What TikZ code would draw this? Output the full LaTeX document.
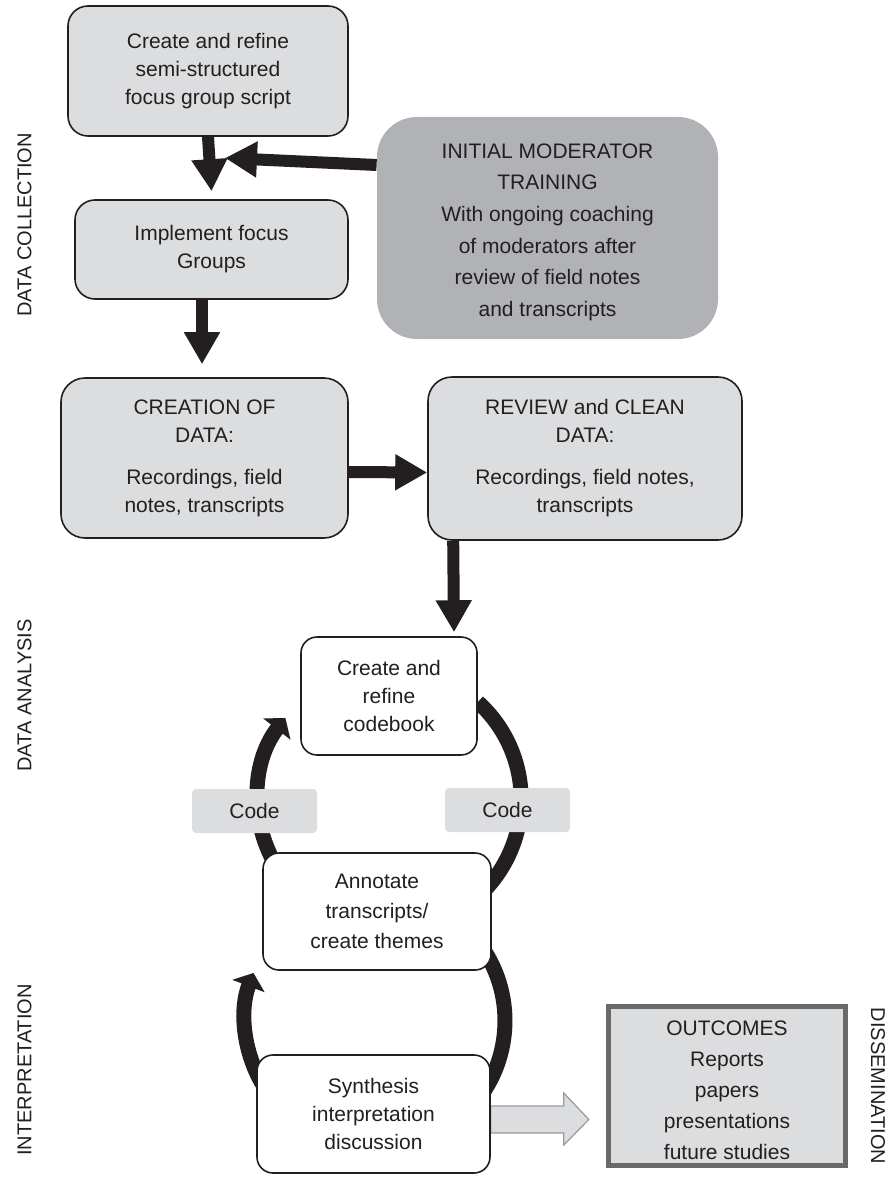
\documentclass[tikz,border=0pt]{standalone}
\usepackage{fontspec}
\setmainfont{Liberation Sans}
\usetikzlibrary{positioning}
\usetikzlibrary{calc}
\usetikzlibrary{arrows.meta}
\pgfdeclarelayer{nodelayer}
\pgfdeclarelayer{edgelayer}
\pgfsetlayers{edgelayer,nodelayer,main}
\definecolor{ink}{HTML}{231F20}
\definecolor{boxgrey}{HTML}{DCDDDF}
\definecolor{modgrey}{HTML}{B1B2B5}
\definecolor{rimgrey}{HTML}{696969}
\definecolor{tipgrey}{HTML}{9A9A9C}
\tikzset{boxfont/.style={font=\fontsize{10.5}{14}\selectfont}}
\tikzset{greybox/.style={draw=ink, line width=0.8pt, fill=boxgrey, rounded corners=10pt, align=center, inner sep=0pt, text=ink, boxfont}}
\tikzset{whitebox/.style={draw=ink, line width=0.8pt, fill=white, rounded corners=8pt, align=center, inner sep=0pt, text=ink, boxfont}}
\tikzset{trainbox/.style={fill=modgrey, rounded corners=20pt, align=center, inner sep=0pt, text=ink, font=\fontsize{10.5}{15.8}\selectfont}}
\tikzset{codetag/.style={fill=boxgrey, rounded corners=2pt, inner sep=0pt, text=ink, boxfont, minimum width=62.5pt, minimum height=22pt}}
\tikzset{outbox/.style={draw=rimgrey, line width=2.5pt, fill=boxgrey, align=center, inner sep=0pt, text=ink, font=\fontsize{10.5}{15.5}\selectfont, minimum width=118.5pt, minimum height=79.5pt}}
\tikzset{phase/.style={inner sep=0pt, text=ink, font=\fontsize{10}{12}\selectfont}}
\tikzset{blockarrow/.style={draw=ink, line width=6pt, -{Triangle[length=16pt,width=17pt]}}}
\tikzset{loopline/.style={draw=ink, line width=7.5pt}}
\tikzset{looptip/.style={-{Triangle[length=7pt,width=17pt]}}}
\tikzset{fadearrow/.style={draw=tipgrey, fill=boxgrey, line width=0.6pt}}

\begin{document}
\begin{tikzpicture}[x=0.5pt, y=-0.5pt]
	\useasboundingbox (0, 0) rectangle (888, 1177);
	\begin{pgfonlayer}{nodelayer}
		\node [style=greybox, minimum width=140pt, minimum height=65pt] (script) at (208, 71) {Create and refine\\semi-structured\\focus group script};
		\node [style=greybox, minimum width=136.5pt, minimum height=49.5pt] (implement) at (211.5, 249.5) {Implement focus\\Groups};
		\node [style=trainbox, minimum width=170.5pt, minimum height=111pt] (training) at (547.5, 228) {\rule{0pt}{11.5pt}INITIAL MODERATOR\\TRAINING\\With ongoing coaching\\of moderators after\\review of field notes\\and transcripts};
		\node [style=greybox, rounded corners=12pt, minimum width=143.5pt, minimum height=80pt] (creation) at (204.5, 458) {CREATION OF\\DATA:\\[7pt]Recordings, field\\notes, transcripts};
		\node [style=greybox, rounded corners=12pt, minimum width=157pt, minimum height=81.5pt] (review) at (585, 458.5) {REVIEW and CLEAN\\DATA:\\[7pt]Recordings, field notes,\\transcripts};
		\node [style=whitebox, minimum width=88pt, minimum height=59pt, font=\fontsize{10.5}{13.8}\selectfont] (codebook) at (389, 696) {Create and\\refine\\codebook};
		\node [style=codetag] (codeL) at (254.5, 811) {Code};
		\node [style=codetag] (codeR) at (507.5, 810) {Code};
		\node [style=whitebox, minimum width=114pt, minimum height=58.5pt, font=\fontsize{10.5}{15}\selectfont] (annotate) at (377, 911.5) {Annotate\\transcripts/\\create themes};
		\node [style=whitebox, minimum width=116.5pt, minimum height=59pt] (synthesis) at (373.5, 1114) {Synthesis\\interpretation\\discussion};
		\node [style=outbox] (outcomes) at (727, 1086) {\rule{0pt}{12pt}OUTCOMES\\Reports\\papers\\presentations\\future studies};
		\node [style=phase, rotate=90] (collection) at (24.5, 225) {DATA COLLECTION};
		\node [style=phase, rotate=90] (analysis) at (24.5, 695.5) {DATA ANALYSIS};
		\node [style=phase, rotate=90] (interpret) at (24.5, 1070) {INTERPRETATION};
		\node [style=phase, rotate=-90] (dissemination) at (878, 1086) {DISSEMINATION};
		\coordinate (join) at (225, 158);
	\end{pgfonlayer}
	\begin{pgfonlayer}{edgelayer}
		\draw [style=blockarrow] (script.south) to ([yshift=4pt]implement.north);
		\draw [style=blockarrow] ([yshift=31.5pt]training.west) to (join);
		\draw [style=blockarrow] ([xshift=-4.75pt]implement.south) to ([xshift=-1.25pt, yshift=6.5pt]creation.north);
		\draw [style=blockarrow] ([yshift=-7pt]creation.east) to ([yshift=-7pt]review.west);
		\draw [style=blockarrow] ([xshift=13pt]review.south west) to ([xshift=32.5pt, yshift=2pt]codebook.north);
		% analysis loop
		\draw [style=loopline] ($(codebook.east)+(0, 6)$) arc [start angle=-48, end angle=46, radius=131];
		\draw [style=loopline, style=looptip] ($(annotate.north west)+(13, 12)$) arc [start angle=150, end angle=218, radius=131];
		% interpretation loop
		\draw [style=loopline] ($(annotate.south east)+(-17, -33)$) arc [start angle=-40, end angle=40, radius=129];
		\draw [style=loopline, style=looptip] ($(synthesis.north west)+(6, 29.5)$) arc [start angle=150, end angle=201, radius=129];
		\draw [style=fadearrow] ($(synthesis.east)+(0, -8)$) -- ++(73, 0) -- ++(0, -13) -- ++(25, 26.5) -- ++(-25, 25.5) -- ++(0, -12) -- ($(synthesis.east)+(0, 19)$) -- cycle;
	\end{pgfonlayer}
\end{tikzpicture}
\end{document}
